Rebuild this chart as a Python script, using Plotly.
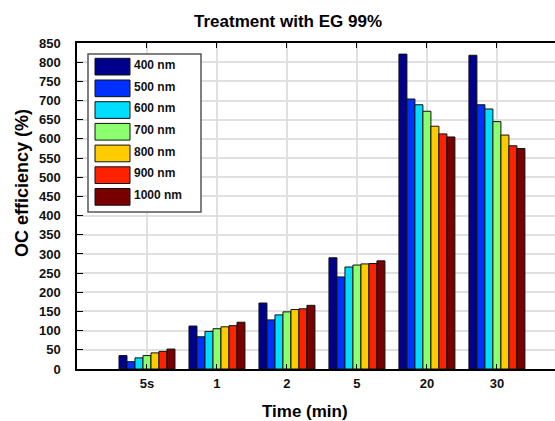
import plotly.graph_objects as go

categories = ["5s", "1", "2", "5", "20", "30"]
series_names = ["400 nm", "500 nm", "600 nm", "700 nm", "800 nm", "900 nm", "1000 nm"]
v400 = [35, 112, 172, 290, 821, 818]
v500 = [19, 84, 128, 240, 704, 689]
v600 = [29, 98, 141, 266, 689, 678]
v700 = [35, 105, 149, 271, 672, 645]
v800 = [42, 110, 155, 274, 633, 610]
v900 = [46, 113, 157, 275, 613, 582]
v1000 = [52, 122, 166, 282, 605, 575]
series_values = [v400, v500, v600, v700, v800, v900, v1000]
colors = ["#00008C", "#0030FF", "#00DDFF", "#8CFF6E", "#FFCC00", "#FF2200", "#780000"]
y_ticks = list(range(0, 851, 50))

W, H = 555, 421
L, T, R, B = 77, 43, 0, 52
PW, PH = W - L - R, H - T - B
FONT = "Arial, Liberation Sans, sans-serif"


def px(x):
    return (x - L) / PW


def py(y):
    return (H - B - y) / PH


fig = go.Figure()
for name, vals, col in zip(series_names, series_values, colors):
    fig.add_trace(go.Bar(
        x=categories, y=vals, name=name, showlegend=False,
        marker=dict(color=col, line=dict(color="#111111", width=1)),
    ))

shapes = []
annotations = []
# custom legend box
shapes.append(dict(type="rect", xref="paper", yref="paper",
                   x0=px(88), x1=px(201), y0=py(54), y1=py(212),
                   fillcolor="white", line=dict(color="#555555", width=1.5), layer="above"))
for i, (name, col) in enumerate(zip(series_names, colors)):
    top = 58.3 + i * 21.7
    shapes.append(dict(type="rect", xref="paper", yref="paper",
                       x0=px(95), x1=px(130), y0=py(top), y1=py(top + 16.7),
                       fillcolor=col, line=dict(color="#111111", width=1), layer="above"))
    annotations.append(dict(text=f"<b>{name}</b>", xref="paper", yref="paper",
                            x=px(132), y=py(top + 6.5), xanchor="left", yanchor="middle",
                            showarrow=False, font=dict(family=FONT, size=12, color="#111111")))

annotations.append(dict(text="<b>OC efficiency (%)</b>", xref="paper", yref="paper",
                        x=px(22), y=py(183), xanchor="center", yanchor="middle", textangle=-90,
                        showarrow=False, font=dict(family=FONT, size=18, color="black")))
annotations.append(dict(text="<b>Time (min)</b>", xref="paper", yref="paper",
                        x=px(305), y=py(411), xanchor="center", yanchor="middle",
                        showarrow=False, font=dict(family=FONT, size=17, color="black")))

fig.update_layout(
    width=W, height=H,
    margin=dict(l=L, r=R, t=T, b=B, pad=0),
    paper_bgcolor="white", plot_bgcolor="white",
    barmode="group", bargap=0.2, bargroupgap=0.0,
    title=dict(text="<b>Treatment with EG 99%</b>", x=288 / W, xanchor="center",
               y=1 - 21 / H, yanchor="middle", yref="container",
               font=dict(family=FONT, size=17, color="black")),
    font=dict(family=FONT, color="black"),
    shapes=shapes, annotations=annotations,
)
fig.update_xaxes(
    type="category", range=[-1, 5.83],
    showline=True, linecolor="black", linewidth=1.5, mirror="ticks",
    ticks="inside", ticklen=5, tickcolor="black",
    showgrid=True, gridcolor="#e0e0e0", gridwidth=1.5,
    tickfont=dict(family=FONT, size=13, color="#111111"), ticklabelstandoff=2,
    ticktext=[f"<b>{c}</b>" for c in categories], tickvals=categories,
)
fig.update_yaxes(
    range=[0, 850], tickvals=y_ticks, ticktext=[f"<b>{v}</b>" for v in y_ticks],
    showline=True, linecolor="black", linewidth=1.5,
    ticks="inside", ticklen=6, tickcolor="black",
    showgrid=True, gridcolor="#e0e0e0", gridwidth=1.5, zeroline=False,
    tickfont=dict(family=FONT, size=13, color="#111111"), ticklabelstandoff=12,
)

fig.write_html("out.html")
